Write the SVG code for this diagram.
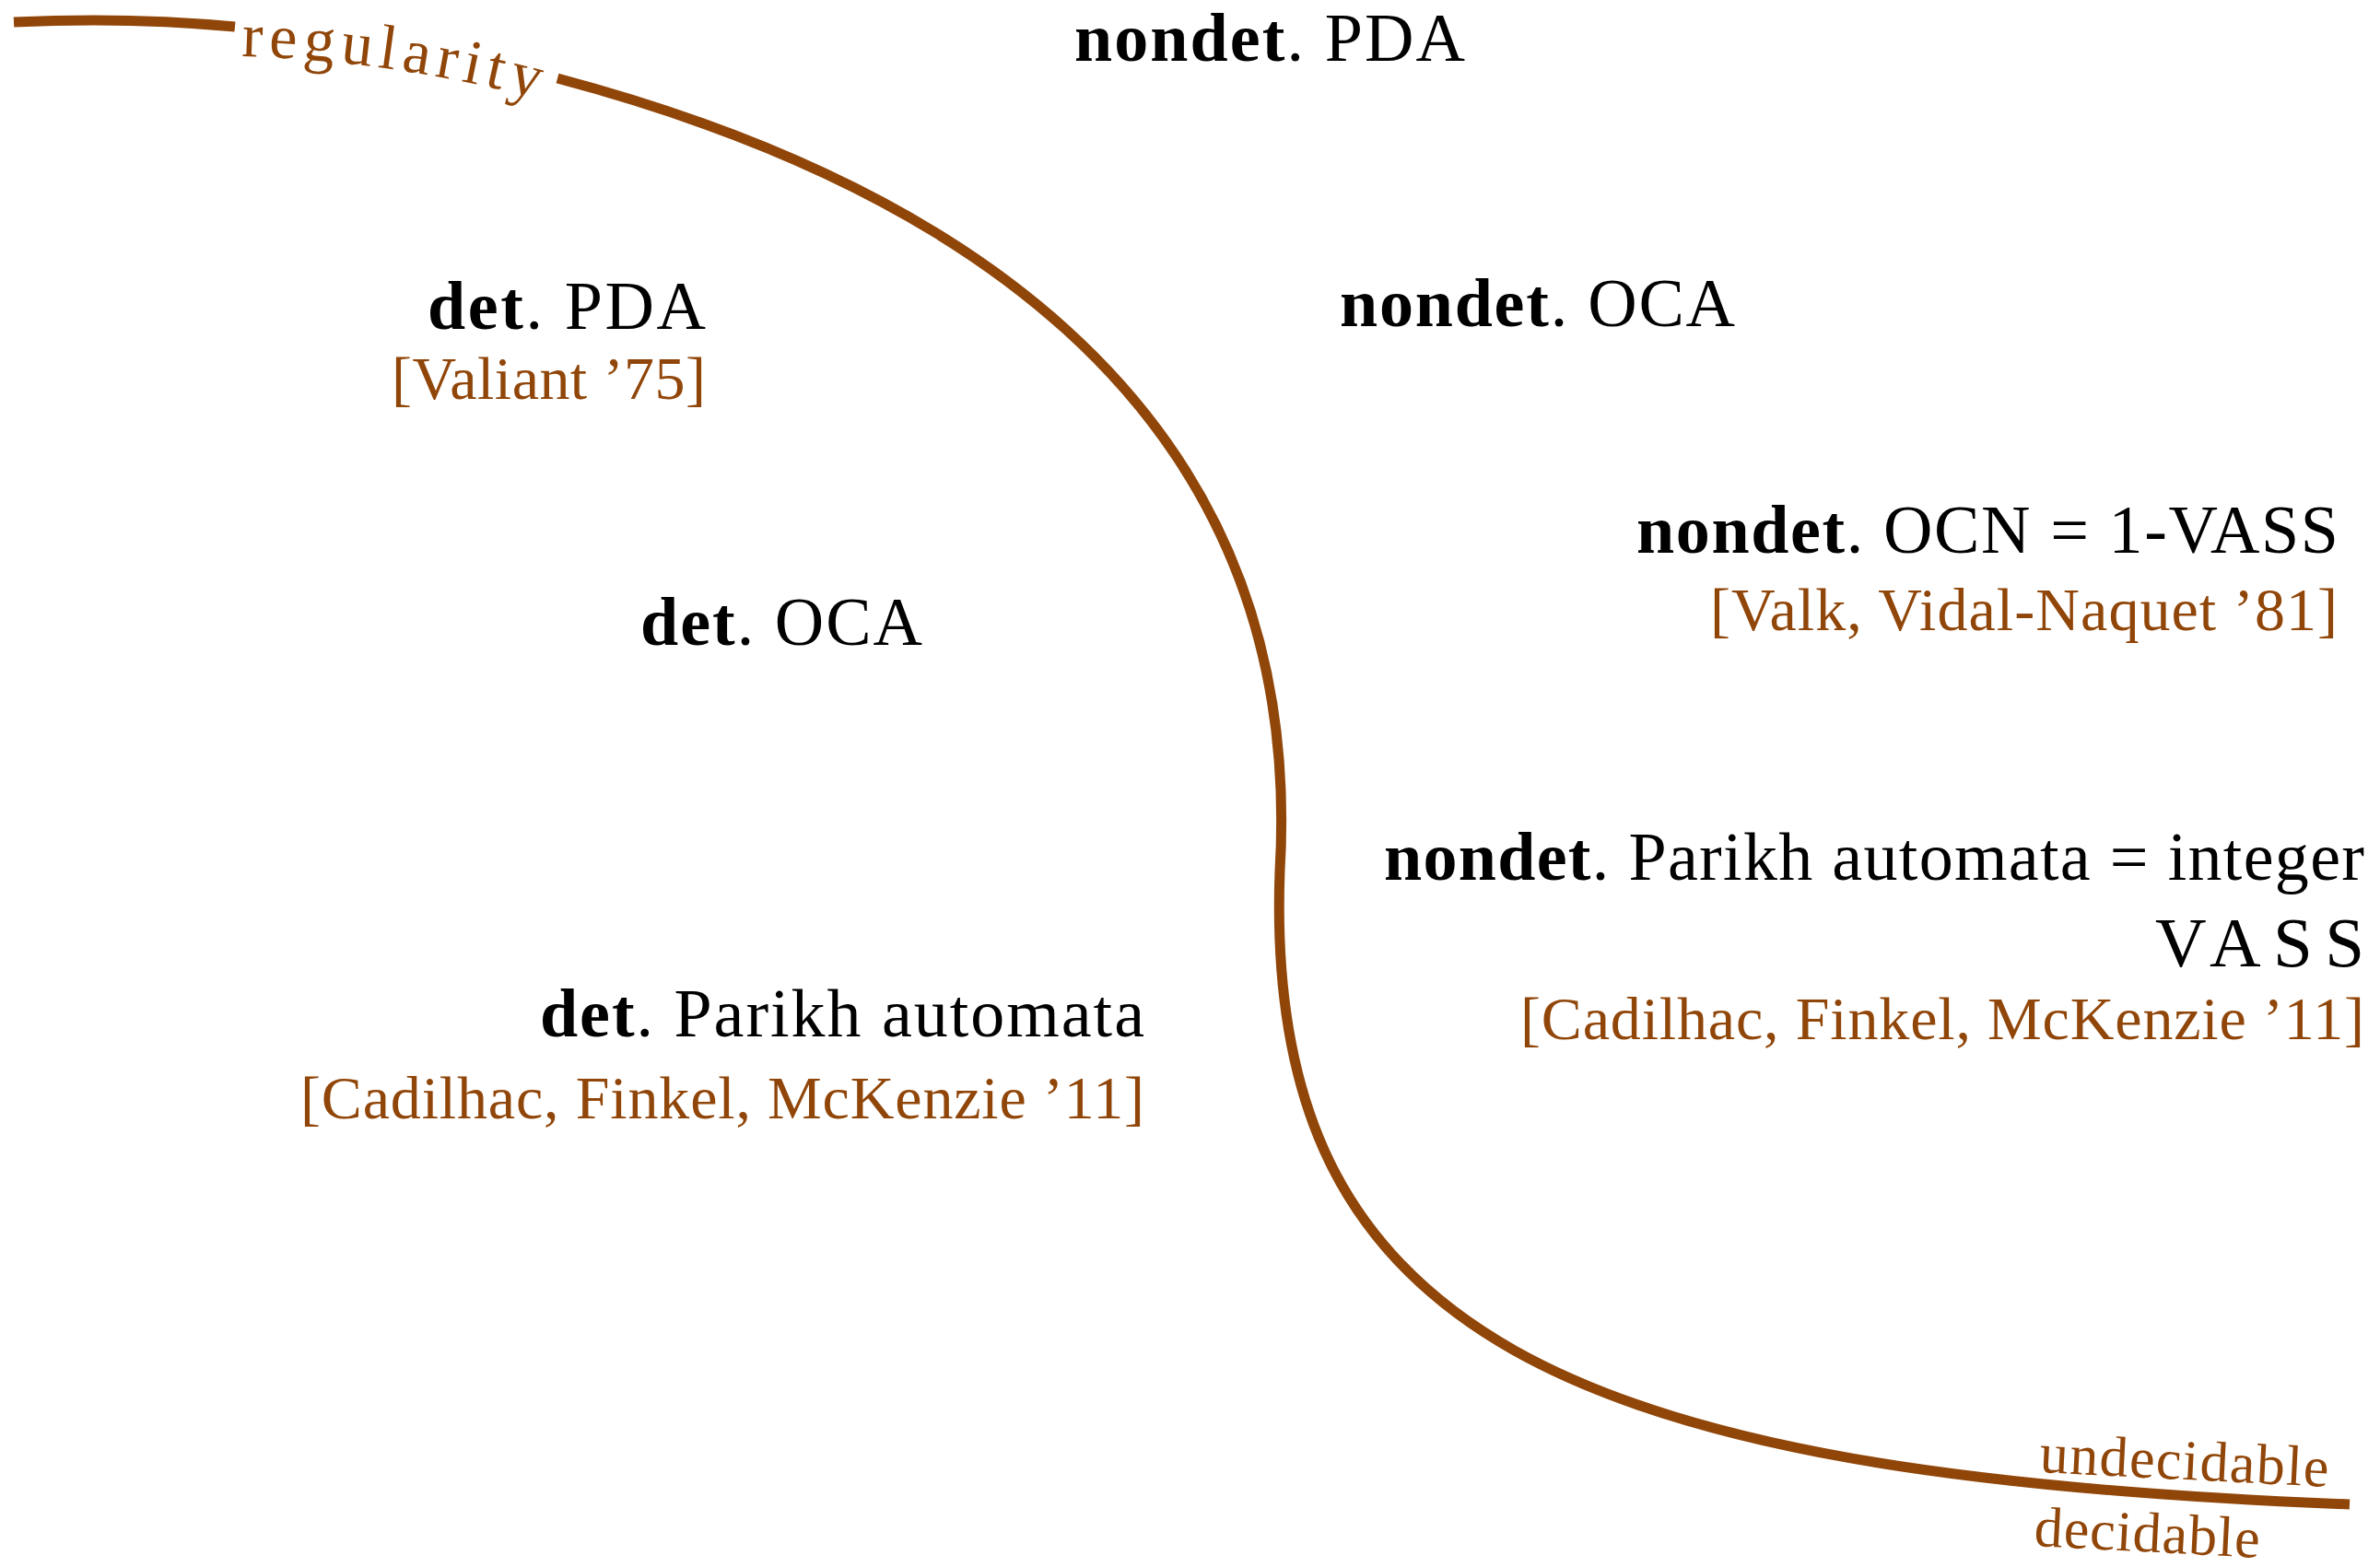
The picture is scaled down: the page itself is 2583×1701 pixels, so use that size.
<svg xmlns="http://www.w3.org/2000/svg" width="2583" height="1701" viewBox="0 0 2583 1701">
<style>
.t{font-family:"Liberation Serif","Times New Roman",serif;font-size:74px;fill:#000}
.b{font-weight:bold}
.c{font-family:"Liberation Serif","Times New Roman",serif;font-size:66px;fill:#914609}
.lab{font-family:"Liberation Serif","Times New Roman",serif;fill:#914609}
.curve{fill:none;stroke:#914609;stroke-width:11;stroke-linecap:butt}
</style>
<defs>
<path id="regpath" d="M 262 61 Q 430 66 590 109"/>
</defs>
<rect width="2583" height="1701" fill="#fff"/>
<g id="connectors">
<path class="curve" d="M 15 24 Q 140 18 255 29"/>
<path class="curve" d="M 605 85 C 1000 190, 1420 420, 1389 945 C 1370 1450, 1700 1600, 2550 1633"/>
</g>
<g id="regularity">
<text class="lab" font-size="68"><textPath href="#regpath" textLength="325" lengthAdjust="spacing">regularity</textPath></text>
</g>
<g id="boundary-labels">
<text class="lab" font-size="62" x="2213" y="1598" textLength="314" lengthAdjust="spacing" transform="rotate(2.9 2213 1598)">undecidable</text>
<text class="lab" font-size="62" x="2207" y="1678" textLength="245" lengthAdjust="spacing" transform="rotate(3 2207 1678)">decidable</text>
</g>
<g id="nondet-pda">
<text class="t" x="1166" y="66" textLength="424" lengthAdjust="spacing"><tspan class="b">nondet</tspan>. PDA</text>
</g>
<g id="det-pda">
<text class="t" x="464" y="357" textLength="302" lengthAdjust="spacing"><tspan class="b">det</tspan>. PDA</text>
<text class="c" x="425" y="433" textLength="341" lengthAdjust="spacing">[Valiant ’75]</text>
</g>
<g id="nondet-oca">
<text class="t" x="1454" y="354" textLength="429" lengthAdjust="spacing"><tspan class="b">nondet</tspan>. OCA</text>
</g>
<g id="nondet-ocn">
<text class="t" x="1776" y="600" textLength="762" lengthAdjust="spacing"><tspan class="b">nondet</tspan>. OCN = 1-VASS</text>
<text class="c" x="1856" y="684" textLength="681" lengthAdjust="spacing">[Valk, Vidal-Naquet ’81]</text>
</g>
<g id="det-oca">
<text class="t" x="695" y="700" textLength="306" lengthAdjust="spacing"><tspan class="b">det</tspan>. OCA</text>
</g>
<g id="nondet-parikh">
<text class="t" x="1502" y="955" textLength="1064" lengthAdjust="spacing"><tspan class="b">nondet</tspan>. Parikh automata = integer</text>
<text class="t" x="2339" y="1049" style="font-size:77px" textLength="227" lengthAdjust="spacing">VASS</text>
<text class="c" x="1650" y="1128" textLength="916" lengthAdjust="spacing">[Cadilhac, Finkel, McKenzie ’11]</text>
</g>
<g id="det-parikh">
<text class="t" x="586" y="1125" textLength="656" lengthAdjust="spacing"><tspan class="b">det</tspan>. Parikh automata</text>
<text class="c" x="326" y="1214" textLength="916" lengthAdjust="spacing">[Cadilhac, Finkel, McKenzie ’11]</text>
</g>
</svg>
